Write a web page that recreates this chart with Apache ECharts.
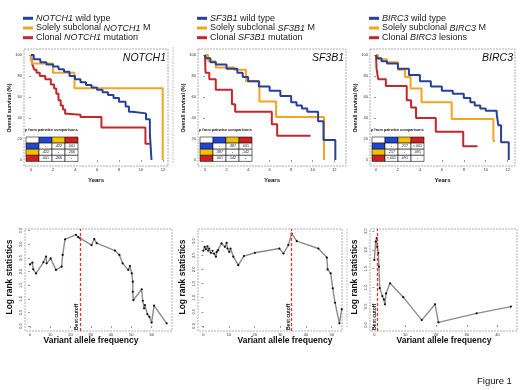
<!DOCTYPE html>
<html><head><meta charset="utf-8">
<script src="https://cdn.jsdelivr.net/npm/echarts@6/dist/echarts.min.js"></script>
<style>html,body{margin:0;padding:0;background:#fff}#c{width:520px;height:390px}</style>
</head><body><div id="c"></div>
<script>
// ---------------- DATA ----------------
const genes = ['NOTCH1', 'SF3B1', 'BIRC3'];
const clonalWord = ['mutation', 'mutation', 'lesions'];
const kmYTicks = [0, 20, 40, 60, 80, 100];
const kmXTicks = [0, 2, 4, 6, 8, 10, 12];

// Kaplan-Meier curves: [years, overall survival %]
const notch1Wt = [[0,100],[0.25,96],[0.85,93],[1.4,91],[2,89],[2.5,86.5],[3,84],[3.5,80],[4,77],[4.5,74],[5,71.4],[5.5,69],[6,67],[6.5,64.5],[7,62],[7.5,59],[8,55.5],[8.6,51],[8.9,46],[9.2,44.4],[10.45,38.7],[10.8,25.4],[10.95,0]];
const notch1Sub = [[0,100],[0.1,92],[2,83],[3.95,68.3],[11.97,0]];
const notch1Cl = [[0,100],[0.05,95],[0.15,90],[0.3,86],[0.5,83],[0.8,80],[1.3,77],[1.8,72],[2.1,68],[2.3,63],[2.5,57],[2.7,52],[2.9,48],[3.1,44],[3.3,43],[4.5,41],[6.4,31],[10.4,15.6],[10.85,15.6]];

const sf3b1Wt = [[0,100],[0.1,97],[0.5,93],[1,91],[2,87],[3,83],[3.5,79],[4,75],[5,70],[6,66],[7,61],[8,55],[8.5,52],[9,49],[9.5,46],[10.5,37],[11.0,19],[12.1,0]];
const sf3b1Sub = [[0,100],[0.3,94],[1,88],[2.7,86],[3.8,75],[5.05,55.6],[6.6,41],[11.05,0]];
const sf3b1Cl = [[0,100],[0.05,83],[0.4,77],[1.0,67],[2.5,53],[2.8,46],[6.2,34],[6.7,23],[9.8,23]];

const birc3Wt = [[0,100],[0.1,97],[0.5,94],[1,92],[2,87],[3,81],[4,75],[5,70],[6,66],[7,63],[8,59],[8.6,55],[9,52],[9.5,49],[10,47],[11,44],[11.15,33],[11.4,17],[12.1,0]];
const birc3Sub = [[0,100],[0.2,96],[1,93],[2,86],[2.65,79],[3.15,68],[4.15,55],[6.9,39],[10.7,18],[10.85,18]];
const birc3Cl = [[0,100],[0.05,87],[0.2,77],[0.9,70.5],[2.8,57],[3.2,50],[3.65,40],[5.45,27],[7.95,13],[9.25,13]];

// pairwise p values (rows/cols: wild type, subclonal, clonal)
const notch1P = [['-','.422','.001'],['.422','-','.266'],['.001','.266','-']];
const sf3b1P  = [['-','.387','.001'],['.387','-','.142'],['.001','.142','-']];
const birc3P  = [['-','.217','<.001'],['.217','-','.091'],['<.001','.091','-']];

// log rank statistic vs variant allele frequency: [VAF, statistic]
const notch1Vaf = [[0,2.26],[1.2,2.33],[1.6,2.08],[3,1.93],[6.6,2.34],[7.9,2.55],[8.2,2.30],[10.2,2.48],[12.8,2.06],[15.6,2.18],[16.1,2.61],[17.3,3.18],[22.7,3.35],[23.8,3.26],[24.7,3.22],[30.4,2.97],[31.7,3.19],[32.9,3.04],[41.9,2.77],[44.1,2.61],[45.7,2.30],[48.5,2.06],[49.3,2.20],[50.2,1.93],[50.7,1.63],[50.7,1.26],[51.0,0.95],[55.1,1.35],[55.6,0.93],[56.3,0.65],[56.7,0.77],[57.9,0.44],[58.9,0.34],[60.0,0.13],[61.2,0.75],[67.4,0.10]];
const sf3b1Vaf = [[0,2.66],[0.5,2.80],[1.0,2.71],[1.6,2.82],[1.9,2.66],[2.3,2.74],[2.9,2.59],[3.6,2.66],[4.2,2.56],[4.9,2.45],[5.2,2.62],[5.8,2.68],[7.1,2.92],[8.4,2.80],[9.1,2.94],[9.4,2.74],[10.1,2.62],[10.6,2.74],[11.7,2.45],[13.6,2.15],[15.8,2.47],[20.1,2.59],[29.6,2.74],[31.2,2.56],[33.1,2.86],[34.4,3.27],[36.4,3.0],[44.8,2.74],[48.1,2.42],[48.4,2.0],[49.6,1.86],[50.4,1.33],[51.3,0.82],[53.0,0.09],[53.9,0.59]];
const birc3Vaf = [[0,1.73],[0.45,2.22],[0.78,2.31],[0.97,2.08],[1.3,1.91],[1.5,1.55],[1.75,0.98],[2.6,0.77],[3.1,0.68],[3.46,0.55],[3.8,0.84],[5.1,1.11],[9.4,0.74],[15.4,0.13],[19.7,0.55],[20.8,0.07],[33.2,0.31],[44.3,0.49]];
const bestCutoffs = [24.7, 34.4, 1.1];
const vafXTicks = [[0,10,20,30,40,50,60],[0,10,20,30,40,50],[0,10,20,30,40]];
const vafYTicks = [[0,0.5,1,1.5,2,2.5,3,3.5],[0,0.5,1,1.5,2,2.5,3],[0,0.5,1,1.5,2,2.5]];

// ---------------- LAYOUT / STYLE ----------------
const FONT = 'Liberation Sans';
const C_BLUE = '#27409a', C_ORANGE = '#f5a41f', C_RED = '#c1272d';
const T_BLUE = '#1f46d4', T_YEL = '#f2c000', T_RED = '#d01f1f';
const kmGrids = [
  {left:24, top:49, width:144, height:117, xmin:-0.636, xmax:12.45},
  {left:198, top:49, width:148, height:117, xmin:-0.65, xmax:13.09},
  {left:370, top:49, width:145, height:117, xmin:-0.547, xmax:12.67}
];
const vafGrids = [
  {left:25, top:229, width:147, height:102, xmin:-2.47, xmax:70.05, ymin:-0.18, ymax:3.56},
  {left:198, top:229, width:144, height:102, xmin:-2.07, xmax:54.0, ymin:-0.18, ymax:3.43},
  {left:370, top:229, width:147, height:102, xmin:-1.4, xmax:46.3, ymin:-0.16, ymax:2.553}
];
const kmSets = [[notch1Wt, notch1Sub, notch1Cl],[sf3b1Wt, sf3b1Sub, sf3b1Cl],[birc3Wt, birc3Sub, birc3Cl]];
const pSets = [notch1P, sf3b1P, birc3P];
const vafSets = [notch1Vaf, sf3b1Vaf, birc3Vaf];

const grids = [], xAxes = [], yAxes = [], series = [], graphics = [];
const tickStyle = {length:2, lineStyle:{color:'#555', width:0.6}};
const tickLabel = (vals, extra) => Object.assign({customValues:vals, fontSize:4, margin:2, color:'#333', fontFamily:FONT}, extra || {});

kmGrids.forEach((g, i) => {
  grids.push({left:g.left, top:g.top, width:g.width, height:g.height, show:false, containLabel:false, outerBoundsMode:'none'});
  xAxes.push({gridIndex:i, type:'value', min:g.xmin, max:g.xmax,
    axisLine:{show:false}, splitLine:{show:false},
    axisTick:Object.assign({customValues:kmXTicks}, tickStyle),
    axisLabel:tickLabel(kmXTicks)});
  yAxes.push({gridIndex:i, type:'value', min:-5.7, max:105.7,
    axisLine:{show:false}, splitLine:{show:false},
    axisTick:Object.assign({customValues:kmYTicks}, tickStyle),
    axisLabel:tickLabel(kmYTicks)});
  const cols = [C_BLUE, C_ORANGE, C_RED];
  [2, 1, 0].forEach(k => {
    series.push({type:'line', xAxisIndex:i, yAxisIndex:i, step:'end', data:kmSets[i][k],
      symbol:'none', silent:true, lineStyle:{width:2, color:cols[k]}, itemStyle:{color:cols[k]}});
  });
});

vafGrids.forEach((g, j) => {
  const i = j + 3;
  grids.push({left:g.left, top:g.top, width:g.width, height:g.height, show:false, containLabel:false, outerBoundsMode:'none'});
  xAxes.push({gridIndex:i, type:'value', min:g.xmin, max:g.xmax,
    axisLine:{show:false}, splitLine:{show:false},
    axisTick:Object.assign({customValues:vafXTicks[j]}, tickStyle),
    axisLabel:tickLabel(vafXTicks[j])});
  yAxes.push({gridIndex:i, type:'value', min:g.ymin, max:g.ymax,
    axisLine:{show:false}, splitLine:{show:false},
    axisTick:Object.assign({customValues:vafYTicks[j]}, tickStyle),
    axisLabel:tickLabel(vafYTicks[j], {rotate:90, formatter:v => v.toFixed(1)})});
  series.push({type:'line', xAxisIndex:i, yAxisIndex:i, data:vafSets[j], silent:true,
    symbol:'circle', symbolSize:2.2, showSymbol:true,
    lineStyle:{width:1.4, color:'#8c8c8c'}, itemStyle:{color:'#111'},
    markLine:{silent:true, symbol:'none', animation:false,
      lineStyle:{color:'#e8332a', type:[3,2], width:1.3},
      label:{show:true, formatter:'Best cutoff', position:'insideStartTop', distance:1,
        fontSize:5, fontWeight:'bold', color:'#111', fontFamily:FONT},
      data:[{xAxis:bestCutoffs[j]}]}});
});

// frames
kmGrids.concat(vafGrids).forEach(g => {
  graphics.push({type:'rect', silent:true, shape:{x:g.left, y:g.top, width:g.width, height:g.height},
    style:{fill:'none', stroke:'#9a9a9a', lineWidth:0.8, lineDash:[2,1]}, z:1});
});
graphics.push({type:'line', silent:true, shape:{x1:173, y1:47, x2:173, y2:164}, style:{stroke:'#b5b5b5', lineWidth:0.8, lineDash:[2,1]}});
graphics.push({type:'line', silent:true, shape:{x1:347, y1:229, x2:347, y2:327}, style:{stroke:'#b5b5b5', lineWidth:0.8, lineDash:[2,1]}});

// text measuring for mixed italic / upright legend labels
const mctx = document.createElement('canvas').getContext('2d');
function textW(t, italic) {
  mctx.font = (italic ? 'italic ' : '') + '9px "' + FONT + '"';
  return mctx.measureText(t).width;
}

kmGrids.forEach((g, i) => {
  const gene = genes[i];
  const lx = g.left - 1;
  const labels = [
    [[gene, true], [' wild type', false]],
    [['Solely subclonal ', false], [gene, true], [' M', false]],
    [['Clonal ', false], [gene, true], [' ' + clonalWord[i], false]]
  ];
  const cols = [C_BLUE, C_ORANGE, C_RED];
  labels.forEach((segs, k) => {
    const y = 18.3 + k * 9.7;
    graphics.push({type:'line', silent:true, shape:{x1:lx, y1:y, x2:lx + 10, y2:y}, style:{stroke:cols[k], lineWidth:3}});
    let x = lx + 13;
    segs.forEach(([t, it]) => {
      graphics.push({type:'text', silent:true, x:x, y:y,
        style:{text:t, fill:'#222', fontSize:9, fontStyle:it ? 'italic' : 'normal', fontFamily:FONT, align:'left', verticalAlign:'middle'}});
      x += textW(t, it);
    });
  });
  graphics.push({type:'text', silent:true, x:g.left + g.width - 2, y:58,
    style:{text:gene, fill:'#111', fontSize:10.5, fontStyle:'italic', fontFamily:FONT, align:'right', verticalAlign:'middle'}});
  graphics.push({type:'text', silent:true, x:g.left - 14, y:108, rotation:Math.PI/2,
    style:{text:'Overall survival (%)', fill:'#111', fontSize:5.3, fontWeight:'bold', fontFamily:FONT, align:'center', verticalAlign:'middle'}});
  graphics.push({type:'text', silent:true, x:g.left + g.width/2, y:180,
    style:{text:'Years', fill:'#111', fontSize:6, fontWeight:'bold', fontFamily:FONT, align:'center', verticalAlign:'middle'}});
  // p-value table
  const L = g.left + 2, T = 137, cw = 13, rh = 6.1;
  graphics.push({type:'text', silent:true, x:L - 1, y:130,
    style:{text:'p from pairwise comparisons', fill:'#111', fontSize:3.8, fontWeight:'bold', fontFamily:FONT, align:'left', verticalAlign:'middle'}});
  const hc = ['#ffffff', T_BLUE, T_YEL, T_RED];
  for (let r = 0; r < 4; r++) {
    for (let c = 0; c < 4; c++) {
      const fill = r === 0 ? hc[c] : (c === 0 ? hc[r] : '#ffffff');
      graphics.push({type:'rect', silent:true, shape:{x:L + c*cw, y:T + r*rh, width:cw, height:rh},
        style:{fill:fill, stroke:'#111', lineWidth:0.6}, z:5});
      if (r > 0 && c > 0) {
        graphics.push({type:'text', silent:true, x:L + c*cw + cw/2, y:T + r*rh + rh/2, z:6,
          style:{text:pSets[i][r-1][c-1], fill:'#111', fontSize:3.6, fontFamily:FONT, align:'center', verticalAlign:'middle'}});
      }
    }
  }
});

// VAF panel axis titles
const vafTitleX = [91, 285, 444];
vafGrids.forEach((g, j) => {
  graphics.push({type:'text', silent:true, x:g.left - 15, y:277, rotation:Math.PI/2,
    style:{text:'Log rank statistics', fill:'#111', fontSize:8.5, fontWeight:'bold', fontFamily:FONT, align:'center', verticalAlign:'middle'}});
  graphics.push({type:'text', silent:true, x:vafTitleX[j], y:341,
    style:{text:'Variant allele frequency', fill:'#111', fontSize:8.5, fontWeight:'bold', fontFamily:FONT, align:'center', verticalAlign:'middle'}});
});

graphics.push({type:'text', silent:true, x:477, y:381,
  style:{text:'Figure 1', fill:'#111', fontSize:9.5, fontFamily:FONT, align:'left', verticalAlign:'middle'}});

const chart = echarts.init(document.getElementById('c'), null, {renderer:'canvas'});
chart.setOption({
  animation:false,
  backgroundColor:'#fff',
  textStyle:{fontFamily:FONT},
  grid:grids, xAxis:xAxes, yAxis:yAxes, series:series, graphic:graphics
});
</script></body></html>
